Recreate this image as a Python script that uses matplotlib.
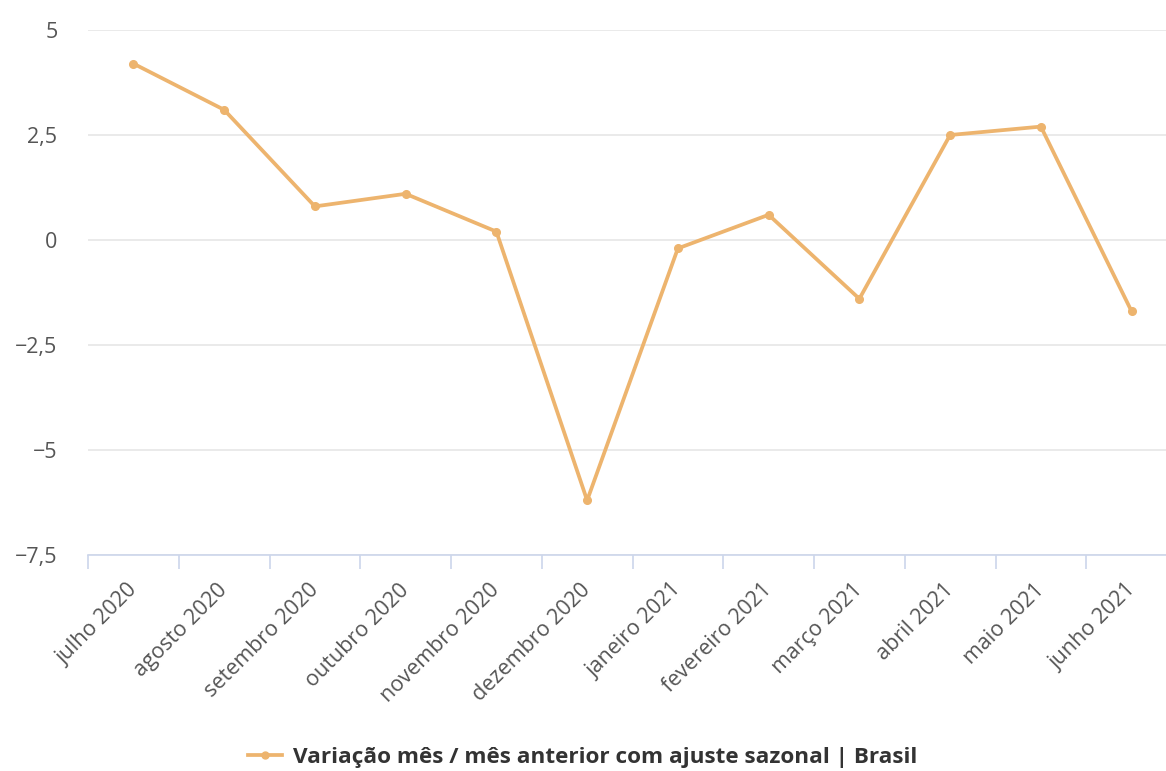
import matplotlib
matplotlib.use("Agg")
import matplotlib.pyplot as plt
from matplotlib.lines import Line2D

categories = ["julho 2020", "agosto 2020", "setembro 2020", "outubro 2020",
              "novembro 2020", "dezembro 2020", "janeiro 2021", "fevereiro 2021",
              "março 2021", "abril 2021", "maio 2021", "junho 2021"]
values = [4.2, 3.1, 0.8, 1.1, 0.2, -6.2, -0.2, 0.6, -1.4, 2.5, 2.7, -1.7]
yticks = [5, 2.5, 0, -2.5, -5, -7.5]
ytick_labels = ["5", "2,5", "0", "−2,5", "−5", "−7,5"]
series_name = "Variação mês / mês anterior com ajuste sazonal | Brasil"

plt.rcParams['font.family'] = ['Open Sans', 'DejaVu Sans']

W, H = 1166, 771
fig = plt.figure(figsize=(W / 100, H / 100), dpi=100)
left, right = 88, 1177
top, bottom = 30, 555
ax = fig.add_axes([left / W, 1 - bottom / H, (right - left) / W, (bottom - top) / H])

color = "#EDB46E"
x = list(range(len(categories)))
ax.plot(x, values, color=color, lw=2.7, marker="o", ms=5.5, solid_joinstyle="round")

ax.set_xlim(-0.5, len(categories) - 0.5)
ax.set_ylim(-7.5, 5)
ax.set_yticks(yticks)
ax.set_yticklabels(ytick_labels)
ax.grid(axis="y", color="#e6e6e6", lw=1.2)
ax.set_axisbelow(True)
for s in ["top", "right", "left"]:
    ax.spines[s].set_visible(False)
ax.spines["bottom"].set_color("#ccd6eb")
ax.spines["bottom"].set_linewidth(1.2)
ax.tick_params(axis="y", length=0, pad=22, labelsize=15.5, labelcolor="#555555")

# category labels at centers, tick marks at boundaries
ax.set_xticks(x)
ax.set_xticklabels(categories, rotation=45, ha="right", rotation_mode="anchor",
                   fontsize=15.5, color="#555555")
ax.tick_params(axis="x", which="major", length=0, pad=9)
ax.set_xticks([i - 0.5 for i in range(len(categories) + 1)], minor=True)
ax.tick_params(axis="x", which="minor", length=10, width=1.2, color="#ccd6eb")
for lbl in ax.get_xticklabels():
    lbl.set_transform(lbl.get_transform() + matplotlib.transforms.ScaledTranslation(-7 / 100, -12 / 100, fig.dpi_scale_trans))

handle = Line2D([], [], color=color, lw=2.7, marker="o", ms=5)
fig.legend([handle], [series_name], loc="center", bbox_to_anchor=(583 / W, 1 - 757 / H),
           frameon=False, prop={"weight": "bold", "size": 16.2}, handlelength=1.5,
           handletextpad=0.5, labelcolor="#333333")

fig.savefig("out.png", dpi=100)
